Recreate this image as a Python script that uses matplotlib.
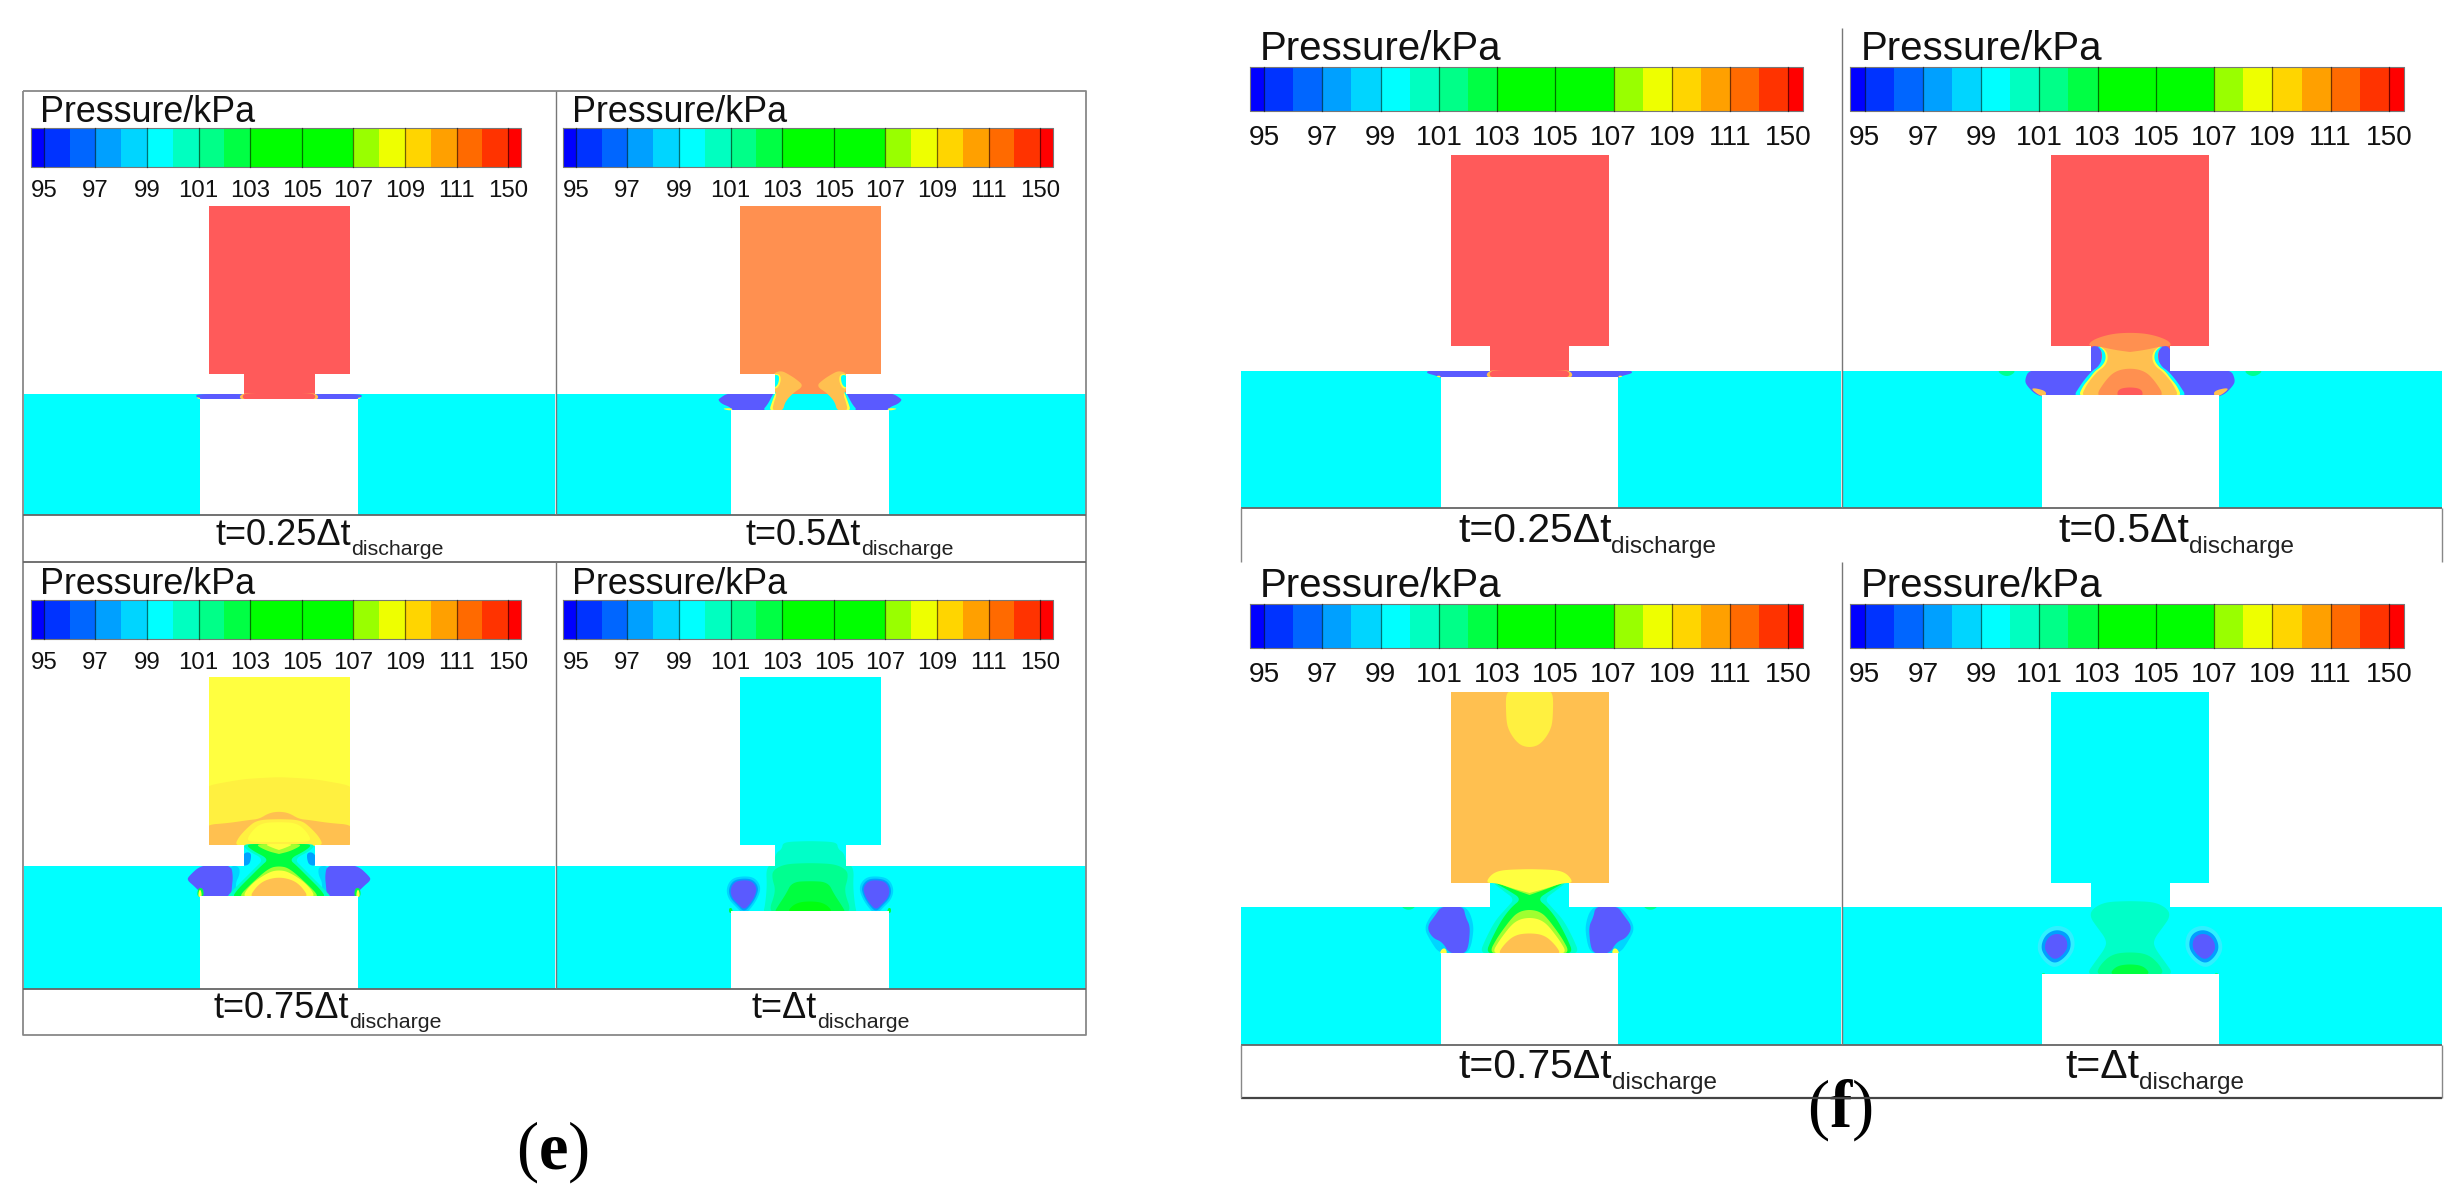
import numpy as np
import matplotlib
matplotlib.use("Agg")
import matplotlib.pyplot as plt
from matplotlib.patches import PathPatch, Polygon
from matplotlib.path import Path

plt.rcParams['font.family'] = ['Liberation Sans', 'DejaVu Sans']
plt.rcParams['mathtext.fontset'] = 'custom'
plt.rcParams['mathtext.rm'] = 'Liberation Serif'
plt.rcParams['mathtext.bf'] = 'Liberation Serif:bold'

# colour bar
tick_labels = ['95', '97', '99', '101', '103', '105', '107', '109', '111', '150']
band_colors = ['#0000ff', '#0033ff', '#0066ff', '#00a0ff', '#00d5ff', '#00ffff', '#00ffc0',
               '#00ff88', '#00ff44', '#00ff00', '#00ff00', '#00ff00', '#00ff00', '#99ff00',
               '#eeff00', '#ffd500', '#ffa000', '#ff6a00', '#ff3300', '#ff0000']
captions_text = ['t=0.25Δt', 't=0.5Δt', 't=0.75Δt', 't=Δt']

VIOLET = '#5a5aff'
BLUE = '#00a0ff'
SKY = '#00d5ff'
CYAN = '#00ffff'
AQUA = '#00ffc8'
MINT = '#00ff90'
GREEN = '#00ff40'
FULLG = '#00ff10'
LIME = '#a0ff30'
YELLOW = '#ffff40'
YEL2 = '#fff040'
LORANGE = '#ffc050'
ORANGE = '#ff9050'
RED = '#ff5a5a'

# pressure regions, (dx, dy) from neck centre / channel top
# a list starting at dx=0 is mirrored into one shape, the others are drawn on both sides
e1_layers = [
    (VIOLET, [(30, 0), (80, 0), (84, 2), (78, 5.5), (30, 5.5)]),
    (YELLOW, [(79, 3.5), (83, 3.5), (79, 5.5)]),
    (LORANGE, [(0, -1), (38, -1), (40, 6), (0, 6)]),
    (RED, [(0, -1), (36, -1), (36.5, 6), (0, 6)]),
]
e2_layers = [
    (VIOLET, [(30, -1), (82, -1), (90, 4), (92, 6), (88, 10), (80, 13), (77, 17), (30, 17)]),
    (YELLOW, [(77, 14), (89, 14.5), (79, 17)]),
    (CYAN, [(30, -3), (34, -3), (37, 0), (42, 10), (48, 17), (30, 17)]),
    (YELLOW, [(30, -4), (33, -4), (35, 0), (38, 8), (41, 17), (30, 17)]),
    (LORANGE, [(28, -23), (34, -22), (37, -19), (37, -5), (33, 0), (36, 8), (38, 17), (27, 17),
               (25, 8), (17, -1), (6, -8), (14, -15), (22, -20)]),
    (YELLOW, [(30, -20), (37, -20), (37, -5), (32, -6), (29, -13)]),
    (CYAN, [(31, -19), (37, -19), (37, -6), (33, -8), (31, -13)]),
]
e3_layers = [
    (YEL2, [(0, -89), (35, -87), (75, -80), (75, -20), (0, -20)]),
    (LORANGE, [(0, -54.5), (10, -53), (20, -47), (30, -46), (50, -43), (75, -41), (75, -20), (0, -20)]),
    (YEL2, [(0, -47), (22, -46), (32, -38), (41, -28), (44, -20), (0, -20)]),
    (YELLOW, [(0, -44), (18, -43), (28, -34), (33, -24), (0, -24)]),
    (CYAN, [(0, -22), (37, -22), (37, 1), (0, 1)]),
    (BLUE, [(28, -13), (33, -14), (37, -10), (37, 0), (30, -1), (28, -7)]),
    (SKY, [(40, 0), (50, 0), (50, 31), (41, 31), (44, 18), (39, 8)]),
    (VIOLET, [(48, -1), (78, -1), (90, 10), (92, 14), (85, 20), (78, 27), (79, 31), (48, 31),
              (47, 20), (46, 10)]),
    (GREEN, [(76, 22), (81, 22), (82, 31), (75, 31)]),
    (YELLOW, [(78, 24), (80, 24), (81, 31), (77, 31)]),
    (AQUA, [(0, -22), (37, -22), (31, -15), (15, -7), (24, 2), (36, 14), (46, 24), (53, 32), (0, 32)]),
    (GREEN, [(0, -22), (34, -22), (26, -15), (10, -7), (18, 0), (30, 12), (42, 24), (47, 32), (0, 32)]),
    (LIME, [(0, -22), (25, -22), (12, -15), (0, -12)]),
    (YELLOW, [(0, -22), (15, -22), (6, -18), (0, -16)]),
    (LIME, [(0, 0), (10, 2), (26, 16), (42, 32), (0, 32)]),
    (YELLOW, [(0, 4), (10, 6), (27, 17), (38, 32), (0, 32)]),
    (LORANGE, [(0, 11), (14, 14), (23, 21), (30, 32), (0, 32)]),
]
e4_spot = [(67, 14), (76, 16), (80, 24), (78, 32), (72, 38), (66, 44), (60, 38), (55, 30), (53, 22), (58, 15)]
f4_spot = [(73, 26), (82, 30), (86, 40), (82, 48), (75, 53), (67, 48), (62, 40), (64, 30)]


def grow(pts, k):
    pts = np.array(pts, float)
    c = pts.mean(axis=0)
    return c + (pts - c) * k


e4_layers = [
    (AQUA, [(0, -25), (27, -24), (28, -17), (34, -13), (36, -4), (44, 2), (43, 20), (45, 40), (47, 47), (0, 47)]),
    (MINT, [(0, -3), (25, -2), (37, 4), (38, 12), (34, 25), (42, 47), (0, 47)]),
    (GREEN, [(0, 15), (18, 16), (24, 28), (32, 40), (36, 47), (0, 47)]),
    (FULLG, [(0, 35), (15, 37), (24, 47), (0, 47)]),
    (SKY, grow(e4_spot, 1.3)),
    (BLUE, grow(e4_spot, 1.13)),
    (VIOLET, e4_spot),
    (GREEN, [(78, 42), (81, 42), (81, 47), (77, 47)]),
]
f1_layers = [
    (VIOLET, [(38, -1), (100, -1), (104, 2), (92, 5), (90, 7), (38, 7)]),
    (YELLOW, [(89, 4.5), (94, 5), (89, 7)]),
    (LORANGE, [(0, -1), (41, -1), (44, 7), (0, 7)]),
    (RED, [(0, -1), (39.5, -1), (40, 7), (0, 7)]),
]
f2_layers = [
    (VIOLET, [(28, -25), (41, -25), (41, -1), (101, -1), (105, 8), (104, 14), (92, 26), (30, 26)]),
    (LORANGE, [(84, 25), (84, 20), (95, 17), (99, 18), (90, 25)]),
    (MINT, [(112, -1), (135, -1), (123, 7)]),
    (CYAN, [(0, -26), (34, -26), (28, -20), (28, -11), (32, -4), (38, 0), (45, 8), (50, 15), (57, 26), (0, 26)]),
    (YELLOW, [(0, -26), (33, -26), (25, -20), (24, -11), (29, -4), (35, 0), (41, 8), (47, 15), (52, 26), (0, 26)]),
    (LORANGE, [(0, -26), (32, -26), (23, -20), (22, -11), (26, -4), (32, 0), (39, 8), (44, 15), (49, 26), (0, 26)]),
    (ORANGE, [(0, -38.5), (20, -37), (38, -31), (42, -25), (33, -25), (15, -21), (0, -19)]),
    (ORANGE, [(0, -3), (15, 0), (25, 10), (35, 26), (0, 26)]),
    (RED, [(0, 16), (12, 18), (13, 26), (0, 26)]),
]
f3_layers = [
    (YEL2, [(0, -159), (12, -163), (23, -180), (24, -217), (0, -217)]),
    (CYAN, [(0, -25), (41, -25), (41, 1), (0, 1)]),
    (SKY, [(62, -1), (92, -1), (106, 20), (99, 34), (90, 47), (60, 47), (55, 20)]),
    (VIOLET, [(66, -1), (88, -1), (94, 8), (103, 20), (97, 31), (87, 35), (80, 47), (62, 47), (59, 20), (64, 10)]),
    (YELLOW, [(84, 41), (88, 42), (90, 47), (82, 47)]),
    (MINT, [(112, -1), (130, -1), (121, 4)]),
    (AQUA, [(0, -26), (39, -26), (26, -16), (15, -8), (22, 0), (34, 13), (44, 32), (50, 47), (0, 47)]),
    (GREEN, [(0, -26), (38, -26), (20, -16), (8, -8), (18, 0), (28, 13), (38, 32), (44, 47), (0, 47)]),
    (LIME, [(0, -26), (36, -26), (20, -19), (0, -12)]),
    (YELLOW, [(0, -38), (28, -37), (38, -33), (44, -24), (33, -24), (15, -18), (0, -14)]),
    (LIME, [(0, 2), (14, 6), (32, 30), (41, 47), (0, 47)]),
    (YELLOW, [(0, 10), (15, 14), (30, 33), (38, 47), (0, 47)]),
    (LORANGE, [(0, 26), (15, 28), (26, 38), (32, 48), (0, 48)]),
]
f4_layers = [
    (AQUA, [(0, -6), (25, -5), (38, 2), (40, 10), (33, 20), (24, 32), (24, 40), (35, 55), (44, 68), (0, 68)]),
    (MINT, [(0, 45), (18, 47), (30, 58), (34, 68), (0, 68)]),
    (GREEN, [(0, 57), (14, 59), (21, 68), (0, 68)]),
    ('#30f0ff', grow(f4_spot, 1.65)),
    (BLUE, grow(f4_spot, 1.3)),
    (VIOLET, f4_spot),
    (MINT, [(85, 66), (88, 66), (88, 68), (85, 68)]),
]


def rounded(pts, n=3, cap=5.0):
    # corner cutting, keeps the long edges straight
    p = np.asarray(pts, float)
    for _ in range(n):
        q = np.roll(p, -1, axis=0)
        d = q - p
        ln = np.maximum(np.hypot(d[:, 0], d[:, 1]), 1e-6)
        t = np.minimum(0.25, cap / ln)[:, None]
        a = p + d * t
        b = q - d * t
        p = np.empty((2 * len(a), 2))
        p[0::2] = a
        p[1::2] = b
    return p


fig = plt.figure(figsize=(24.62, 11.95), dpi=100)
ax = fig.add_axes([0, 0, 1, 1])
ax.set_xlim(0, 2462)
ax.set_ylim(1195, 0)
ax.axis('off')


def draw_panel(cx, x0, x1, top, rect_top, rect_bot, block_top, bottom, g, top_col, neck_col, layers):
    rect_h, neck_h, block_h = g
    outline = [(x0, top), (cx - neck_h, top), (cx - neck_h, rect_bot), (cx - rect_h, rect_bot),
               (cx - rect_h, rect_top), (cx + rect_h, rect_top), (cx + rect_h, rect_bot),
               (cx + neck_h, rect_bot), (cx + neck_h, top), (x1, top), (x1, bottom),
               (cx + block_h, bottom), (cx + block_h, block_top), (cx - block_h, block_top),
               (cx - block_h, bottom), (x0, bottom), (x0, top)]
    clip = PathPatch(Path(outline), fc=CYAN, ec='none', zorder=1)
    ax.add_patch(clip)
    rect = ax.fill([cx - rect_h, cx + rect_h, cx + rect_h, cx - rect_h],
                   [rect_top, rect_top, rect_bot, rect_bot], color=top_col, lw=0, zorder=2)[0]
    neck = ax.fill([cx - neck_h, cx + neck_h, cx + neck_h, cx - neck_h],
                   [rect_bot, rect_bot, top, top], color=neck_col, lw=0, zorder=2)[0]
    rect.set_clip_path(clip)
    neck.set_clip_path(clip)
    for i, (col, pts) in enumerate(layers):
        pts = np.asarray(pts, float)
        if pts[0, 0] == 0:
            both = [np.vstack([pts, pts[::-1][:-1] * [-1, 1]])]
        else:
            both = [pts, pts * [-1, 1]]
        for shape in both:
            pg = Polygon(rounded(shape) + [cx, top], closed=True, fc=col, ec='none', zorder=3 + i * 0.01)
            ax.add_patch(pg)
            pg.set_clip_path(clip)


def draw_legend(x0, x1, y0, y1, title_x, title_y, tick_y, title_size, tick_size):
    band = (x1 - x0) / (len(band_colors) - 1)
    lefts = x0 + np.r_[0, band / 2 + band * np.arange(len(band_colors) - 1)]
    widths = np.r_[band / 2, np.full(len(band_colors) - 2, band), band / 2]
    ax.bar(lefts, y1 - y0, widths, bottom=y0, align='edge', color=band_colors, lw=0, zorder=2)
    ax.plot([x0, x1, x1, x0, x0], [y0, y0, y1, y1, y0], color='#777777', lw=0.8, zorder=3)
    for i, lab in enumerate(tick_labels):
        xt = x0 + band / 2 + 2 * i * band
        ax.plot([xt, xt], [y0, y1], color='black', alpha=0.55, lw=0.9, zorder=3)
        ax.text(xt, tick_y, lab, ha='center', va='baseline', fontsize=tick_size, color='#111111')
    ax.text(title_x, title_y, 'Pressure/kPa', ha='left', va='baseline', fontsize=title_size, color='#111111')


def caption(x, y, label, big, small, drop):
    t = ax.text(x, y, label, ha='left', va='baseline', fontsize=big, color='#111111')
    right = t.get_window_extent(fig.canvas.get_renderer()).x1
    ax.text(right, y + drop, 'discharge', ha='left', va='baseline', fontsize=small, color='#222222')


def line(xs, ys, col='#888888', lw=1.3):
    ax.plot(xs, ys, color=col, lw=lw, zorder=5, solid_capstyle='butt')


# (e)
e_geo = (70.5, 35.5, 79)
draw_panel(279, 24, 555, 394, 206, 374, 399, 515, e_geo, RED, RED, e1_layers)
draw_panel(810, 556, 1086, 394, 206, 374, 410, 515, e_geo, ORANGE, ORANGE, e2_layers)
draw_panel(279, 24, 555, 866, 677, 845, 896, 989, e_geo, YELLOW, CYAN, e3_layers)
draw_panel(810, 556, 1086, 866, 677, 845, 911, 989, e_geo, CYAN, CYAN, e4_layers)

for dy in [0, 472]:
    for dx in [0, 532]:
        draw_legend(31 + dx, 521 + dx, 128 + dy, 167 + dy, 40 + dx, 122 + dy, 197 + dy, 25.8, 17.3)

line([23, 1086, 1086, 23, 23], [91, 91, 1035, 1035, 91])
line([23, 1086], [515, 515], '#666666')
line([23, 1086], [562, 562], '#666666')
line([23, 1086], [989, 989], '#666666')
line([555.5, 555.5], [91, 515], '#777777', 1.0)
line([555.5, 555.5], [562, 989], '#777777', 1.0)

caption(215, 545, captions_text[0], 26, 15.4, 10)
caption(746, 545, captions_text[1], 26, 15.4, 10)
caption(214, 1018, captions_text[2], 26, 15.4, 10)
caption(752, 1018, captions_text[3], 26, 15.4, 10)

# (f)
f_geo = (79, 39.5, 88.5)
draw_panel(1529.5, 1241, 1841, 371, 155, 346, 377, 508, f_geo, RED, RED, f1_layers)
draw_panel(2130, 1842, 2442, 371, 155, 346, 395, 508, f_geo, RED, RED, f2_layers)
draw_panel(1529.5, 1241, 1841, 907, 692, 883, 953, 1045, f_geo, LORANGE, CYAN, f3_layers)
draw_panel(2130, 1842, 2442, 907, 692, 883, 974, 1045, f_geo, CYAN, CYAN, f4_layers)

for dy in [0, 537]:
    for dx in [0, 600.5]:
        draw_legend(1249.5 + dx, 1803 + dx, 67 + dy, 111 + dy, 1260 + dx, 60 + dy, 145 + dy, 29, 20.2)

line([1241, 2442], [508, 508], '#666666')
line([1241, 2442], [1045, 1045], '#666666')
line([1241, 2442], [1098, 1098], '#444444', 1.6)
for xv in [1241, 2442]:
    line([xv, xv], [508, 562], '#888888', 1.0)
    line([xv, xv], [1045, 1098], '#888888', 1.0)
line([1841.5, 1841.5], [28, 508], '#777777', 1.0)
line([1841.5, 1841.5], [562, 1045], '#777777', 1.0)

caption(1458, 542, captions_text[0], 29.4, 17.5, 11)
caption(2058, 542, captions_text[1], 29.4, 17.5, 11)
caption(1458, 1078, captions_text[2], 29.4, 17.5, 11)
caption(2065, 1078, captions_text[3], 29.4, 17.5, 11)

ax.text(553, 1169, r'($\mathbf{e}$)', ha='center', va='baseline', fontsize=48, family='Liberation Serif')
ax.text(1840, 1127, r'($\mathbf{f}$)', ha='center', va='baseline', fontsize=48, family='Liberation Serif')

fig.savefig('out.png', dpi=100, facecolor='white')
